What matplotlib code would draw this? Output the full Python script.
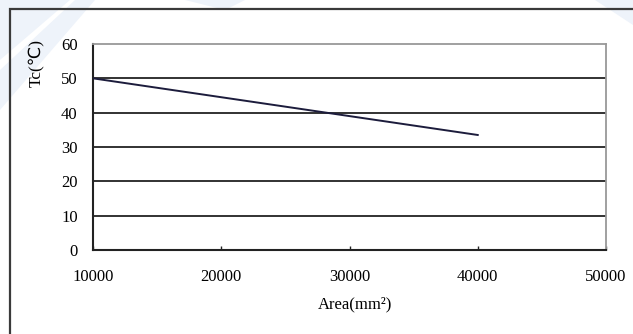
import matplotlib.pyplot as plt
from matplotlib.patches import Rectangle, Polygon

area = [10000, 20000, 30000, 40000]
tc = [50.0, 44.5, 39.0, 33.5]
x_ticks = [10000, 20000, 30000, 40000, 50000]
y_ticks = [0, 10, 20, 30, 40, 50, 60]

W, H = 633, 334
fig = plt.figure(figsize=(W / 100, H / 100), dpi=100)
fig.patch.set_facecolor('white')

# faint watermark shapes in the background (pixel coords, y from top)
for pts in ([(0, 0), (70, 0), (0, 60)],
            [(0, 70), (75, 0), (95, 0), (0, 110)],
            [(185, 0), (245, 0), (225, 10)],
            [(595, 0), (633, 0), (633, 25)]):
    fig.patches.append(Polygon([(x / W, 1 - y / H) for x, y in pts], closed=True,
                               transform=fig.transFigure, facecolor='#eef3fa',
                               edgecolor='none', zorder=-2))

# outer frame
fig.patches.append(Rectangle((10 / W, -0.05), 1.1, (334 - 9) / H + 0.05,
                             transform=fig.transFigure, fill=False,
                             edgecolor='#3a3a3a', linewidth=1.6, zorder=-1))

left, right, top, bottom = 93, 606, 44, 250
ax = fig.add_axes([left / W, 1 - bottom / H, (right - left) / W, (bottom - top) / H])
ax.set_facecolor('none')
ax.set_zorder(2)

ax.plot(area, tc, color='#1c1c3c', linewidth=1.4, zorder=3)

ax.set_xlim(10000, 50000)
ax.set_ylim(0, 60)
ax.set_xticks(x_ticks)
ax.set_yticks(y_ticks)
for y in y_ticks[1:-1]:
    ax.axhline(y, color='#222222', linewidth=1.3, zorder=2)

for s in ('left', 'bottom'):
    ax.spines[s].set_color('#222222')
    ax.spines[s].set_linewidth(1.5)
for s in ('top', 'right'):
    ax.spines[s].set_color('#999999')
    ax.spines[s].set_linewidth(1.3)

font = {'family': 'Liberation Serif', 'size': 12}
ax.tick_params(axis='x', direction='in', length=3, width=1, color='#222222', pad=14)
ax.tick_params(axis='y', length=0, pad=11)
ax.set_xticklabels([str(v) for v in x_ticks], fontdict=font)
ax.set_yticklabels([str(v) for v in y_ticks], fontdict=font)

fig.text(37 / W, 1 - 63 / H, 'Tc(\u2103)', rotation=90, ha='center', va='center',
         family=['Liberation Serif', 'DejaVu Sans'], size=12.5)
fig.text(355 / W, 1 - 304 / H, 'Area(mm\u00b2)', ha='center', va='center',
         family='Liberation Serif', size=12)

fig.savefig('out.png', dpi=100)
